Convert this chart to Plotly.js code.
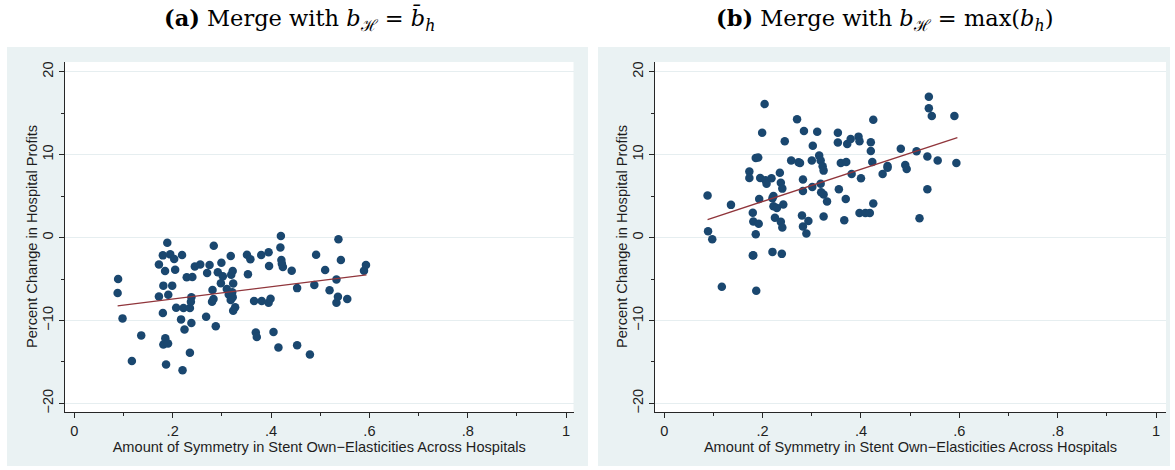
<!DOCTYPE html>
<html>
<head>
<meta charset="utf-8">
<script src="https://cdn.plot.ly/plotly-3.0.1.min.js"></script>
<style>html,body{margin:0;padding:0;background:#fff;}#chart{width:1175px;height:470px;}</style>
</head>
<body>
<div id="chart"></div>
<script>
// ---------- data ----------
const xTickVals = [0, 0.2, 0.4, 0.6, 0.8, 1];
const xTickText = ["0", ".2", ".4", ".6", ".8", "1"];
const yTickVals = [-20, -10, 0, 10, 20];

const panelTitles = [
  "<b>(a)</b> Merge with <i>b</i><sub>ℋ</sub> = <i>b̄</i><sub><i>h</i></sub>",
  "<b>(b)</b> Merge with <i>b</i><sub>ℋ</sub> = max(<i>b</i><sub><i>h</i></sub>)"
];
const xTitle = "Amount of Symmetry in Stent Own\u2212Elasticities Across Hospitals";
const yTitle = "Percent Change in Hospital Profits";

// Panel (a): b_H = mean(b_h)
const leftX = [0.089,0.088,0.098,0.117,0.136,0.172,0.172,0.180,0.181,0.180,0.181,0.1845,0.185,0.1865,0.189,0.1906,0.191,0.195,0.199,0.203,
  0.205,0.207,0.219,0.217,0.222,0.220,0.224,0.2285,0.235,0.235,0.238,0.238,0.237,0.240,0.245,0.256,0.268,0.270,0.275,0.281,
  0.280,0.283,0.2835,0.2876,0.2917,0.298,0.299,0.302,0.310,0.314,0.318,0.318,0.319,0.322,0.323,0.322,0.323,0.321,0.327,0.351,
  0.353,0.358,0.3655,0.369,0.371,0.380,0.381,0.395,0.396,0.395,0.399,0.405,0.415,0.419,0.420,0.421,0.424,0.422,0.442,0.453,
  0.453,0.479,0.488,0.4916,0.510,0.519,0.533,0.533,0.536,0.537,0.542,0.555,0.589,0.593];
const leftY = [-5.0,-6.7,-9.75,-14.9,-11.8,-3.24,-7.1,-2.15,-5.8,-9.1,-12.9,-4.04,-12.16,-15.3,-0.62,-12.77,-6.9,-2.03,-5.8,-2.6,
  -3.88,-8.47,-2.1,-9.87,-8.5,-16.0,-11.1,-4.8,-8.5,-13.9,-7.2,-10.3,-7.74,-4.77,-3.5,-3.24,-9.55,-4.28,-3.3,-6.33,
  -7.75,-7.4,-0.99,-10.7,-4.2,-5.5,-3.04,-4.68,-6.2,-6.86,-7.54,-2.23,-4.48,-7.2,-5.53,-4.04,-8.83,-6.6,-8.42,-2.07,
  -4.44,-2.63,-7.66,-11.45,-12.0,-2.1,-7.66,-1.77,-3.44,-7.86,-7.38,-11.4,-13.27,-1.2,0.18,-2.7,-3.56,-3.15,-4.0,-6.1,
  -13.0,-14.1,-5.73,-2.07,-3.92,-6.37,-5.05,-7.86,-7.14,-0.22,-2.7,-7.4,-4.0,-3.3];
const leftFitX = [0.088, 0.594];
const leftFitY = [-8.23, -4.5];

// Panel (b): b_H = max(b_h)
const rightX = [0.088,0.089,0.0975,0.117,0.1356,0.173,0.173,0.180,0.181,0.180,0.181,0.186,0.191,0.186,0.187,0.192,0.193,0.195,0.199,0.204,
  0.206,0.208,0.218,0.220,0.222,0.220,0.222,0.225,0.229,0.235,0.237,0.237,0.240,0.240,0.239,0.242,0.245,0.258,0.270,0.273,
  0.276,0.280,0.282,0.282,0.282,0.284,0.289,0.293,0.300,0.301,0.302,0.311,0.315,0.318,0.318,0.319,0.322,0.324,0.324,0.324,
  0.331,0.353,0.353,0.355,0.359,0.366,0.369,0.370,0.372,0.379,0.381,0.395,0.397,0.397,0.400,0.409,0.418,0.420,0.420,0.423,
  0.425,0.425,0.444,0.454,0.454,0.481,0.490,0.493,0.513,0.519,0.535,0.535,0.538,0.538,0.544,0.556,0.590,0.594];
const rightY = [5.06,0.76,-0.2,-5.94,3.94,7.95,7.19,3.0,1.93,-2.17,-2.13,9.6,9.64,0.4,-6.43,1.65,4.66,7.19,12.65,16.1,
  6.9,6.5,7.15,4.74,5.0,-1.73,3.78,2.4,3.57,7.8,6.6,1.89,5.9,1.2,-1.97,3.98,11.6,9.3,14.26,9.08,
  9.0,2.65,7.0,5.62,1.33,12.85,0.48,2.0,9.3,6.1,11.08,12.77,9.88,9.3,6.5,5.46,8.6,5.2,8.07,2.53,
  4.34,12.65,11.45,5.82,9.0,2.09,4.66,9.12,11.29,11.89,7.67,12.17,11.6,2.97,7.15,2.95,2.97,11.49,10.44,9.12,
  14.2,4.1,7.67,8.63,8.43,10.72,8.76,8.27,10.4,2.33,9.76,5.82,16.99,15.58,14.66,9.3,14.66,9.0];
const rightFitX = [0.088, 0.596];
const rightFitY = [2.17, 12.05];

// ---------- styling ----------
const W = 1175, H = 470;
const navy = "#1a476f", maroon = "#90353b";
const panelBg = "#eaf2f3", gridCol = "#e6eef0", axisCol = "#262626";
const sans = "Liberation Sans, Arial, sans-serif";
const serif = "DejaVu Serif, Liberation Serif, serif";
const txtSize = 14.6;
const txtCol = "#1e1e1e";

function px(a){ return a / W; }
function py(b){ return 1 - b / H; }

const scatter = (x, y, xa, ya) => ({
  x: x, y: y, xaxis: xa, yaxis: ya, type: "scatter", mode: "markers",
  marker: {color: navy, size: 8.5, line: {width: 0}}, hoverinfo: "skip", showlegend: false
});
const fit = (x, y, xa, ya) => ({
  x: x, y: y, xaxis: xa, yaxis: ya, type: "scatter", mode: "lines",
  line: {color: maroon, width: 1.3}, hoverinfo: "skip", showlegend: false
});

const data = [
  scatter(leftX, leftY, "x", "y"), fit(leftFitX, leftFitY, "x", "y"),
  scatter(rightX, rightY, "x2", "y2"), fit(rightFitX, rightFitY, "x2", "y2")
];

const yDom = [py(412), py(62)];
function xAxis(domain, range, anchor) {
  return {
    domain: domain, range: range, anchor: anchor, automargin: false,
    tickmode: "array", tickvals: xTickVals, ticktext: xTickText,
    ticks: "outside", ticklen: 5, tickwidth: 1, tickcolor: axisCol,
    showline: true, linecolor: axisCol, linewidth: 1, mirror: false,
    showgrid: false, zeroline: false,
    minor: {tick0: 0, dtick: 0.1, ticks: "outside", ticklen: 3, tickcolor: axisCol, tickwidth: 1, showgrid: false},
    tickfont: {family: sans, size: txtSize, color: txtCol},
    title: {text: xTitle, font: {family: sans, size: txtSize, color: txtCol}, standoff: 0}
  };
}
function yAxis(anchor) {
  return {
    domain: yDom, range: [-21.04, 21.17], anchor: anchor, automargin: false,
    tickmode: "array", tickvals: yTickVals, tickangle: -90,
    ticks: "outside", ticklen: 5, tickwidth: 1, tickcolor: axisCol,
    showline: true, linecolor: axisCol, linewidth: 1,
    showgrid: true, gridcolor: gridCol, gridwidth: 1, zeroline: false,
    minor: {tick0: 0, dtick: 5, ticks: "outside", ticklen: 3, tickcolor: axisCol, tickwidth: 1, showgrid: false},
    tickfont: {family: sans, size: txtSize, color: txtCol}
  };
}

const yTitleAnn = (xPix) => ({
  text: yTitle, xref: "paper", yref: "paper", x: px(xPix), y: py(237), xanchor: "center", yanchor: "middle",
  textangle: -90, showarrow: false, font: {family: sans, size: txtSize, color: txtCol}
});

const layout = {
  width: W, height: H, margin: {l: 0, r: 0, t: 0, b: 0, pad: 0},
  paper_bgcolor: "#ffffff", plot_bgcolor: "#ffffff", showlegend: false, hovermode: false,
  xaxis: xAxis([px(65), px(573.5)], [-0.019, 1.015], "y"),
  yaxis: yAxis("x"),
  xaxis2: xAxis([px(655), px(1166)], [-0.0189, 1.0203], "y2"),
  yaxis2: yAxis("x2"),
  shapes: [
    {type: "rect", xref: "paper", yref: "paper", x0: px(7), x1: px(588), y0: py(466), y1: py(47),
     fillcolor: panelBg, line: {width: 0}, layer: "below"},
    {type: "rect", xref: "paper", yref: "paper", x0: px(598), x1: px(1170), y0: py(466), y1: py(47),
     fillcolor: panelBg, line: {width: 0}, layer: "below"},
    {type: "rect", xref: "x domain", yref: "y domain", x0: 0, x1: 1, y0: 0, y1: 1,
     fillcolor: "#ffffff", line: {width: 0}, layer: "below"},
    {type: "rect", xref: "x2 domain", yref: "y2 domain", x0: 0, x1: 1, y0: 0, y1: 1,
     fillcolor: "#ffffff", line: {width: 0}, layer: "below"}
  ],
  annotations: [
    {text: panelTitles[0], xref: "paper", yref: "paper", x: px(299), y: py(20), xanchor: "center", yanchor: "middle",
     showarrow: false, font: {family: serif, size: 22.5, color: "#000"}},
    {text: panelTitles[1], xref: "paper", yref: "paper", x: px(884), y: py(20), xanchor: "center", yanchor: "middle",
     showarrow: false, font: {family: serif, size: 22.5, color: "#000"}},
    yTitleAnn(32), yTitleAnn(622)
  ]
};

Plotly.newPlot("chart", data, layout, {staticPlot: true, displayModeBar: false});
</script>
</body>
</html>
